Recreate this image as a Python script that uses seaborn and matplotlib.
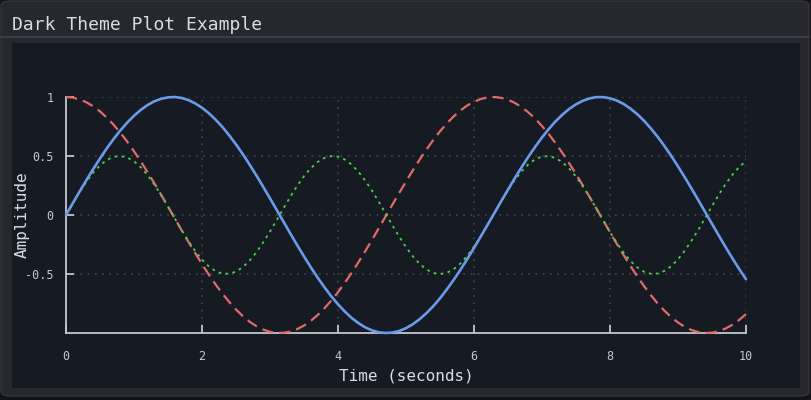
import matplotlib
matplotlib.use("Agg")
import matplotlib.pyplot as plt
from matplotlib.patches import FancyBboxPatch, Rectangle
from matplotlib.lines import Line2D
import seaborn as sns
import pandas as pd

# ---- data ----
x_vals = [0.0, 0.1, 0.2, 0.3, 0.4, 0.5, 0.6, 0.7, 0.8, 0.9,
          1.0, 1.1, 1.2, 1.3, 1.4, 1.5, 1.6, 1.7, 1.8, 1.9,
          2.0, 2.1, 2.2, 2.3, 2.4, 2.5, 2.6, 2.7, 2.8, 2.9,
          3.0, 3.1, 3.2, 3.3, 3.4, 3.5, 3.6, 3.7, 3.8, 3.9,
          4.0, 4.1, 4.2, 4.3, 4.4, 4.5, 4.6, 4.7, 4.8, 4.9,
          5.0, 5.1, 5.2, 5.3, 5.4, 5.5, 5.6, 5.7, 5.8, 5.9,
          6.0, 6.1, 6.2, 6.3, 6.4, 6.5, 6.6, 6.7, 6.8, 6.9,
          7.0, 7.1, 7.2, 7.3, 7.4, 7.5, 7.6, 7.7, 7.8, 7.9,
          8.0, 8.1, 8.2, 8.3, 8.4, 8.5, 8.6, 8.7, 8.8, 8.9,
          9.0, 9.1, 9.2, 9.3, 9.4, 9.5, 9.6, 9.7, 9.8, 9.9,
          10.0]
blue_vals = [0.000, 0.100, 0.199, 0.296, 0.389, 0.479, 0.565, 0.644, 0.717, 0.783,
             0.841, 0.891, 0.932, 0.964, 0.985, 0.997, 1.000, 0.992, 0.974, 0.946,
             0.909, 0.863, 0.808, 0.746, 0.675, 0.598, 0.516, 0.427, 0.335, 0.239,
             0.141, 0.042, -0.058, -0.158, -0.256, -0.351, -0.443, -0.530, -0.612, -0.688,
             -0.757, -0.818, -0.872, -0.916, -0.952, -0.978, -0.994, -1.000, -0.996, -0.983,
             -0.959, -0.926, -0.883, -0.832, -0.773, -0.706, -0.631, -0.551, -0.465, -0.374,
             -0.279, -0.182, -0.083, 0.017, 0.117, 0.215, 0.312, 0.405, 0.494, 0.578,
             0.657, 0.729, 0.794, 0.850, 0.899, 0.938, 0.968, 0.988, 0.999, 0.999,
             0.989, 0.970, 0.941, 0.902, 0.855, 0.799, 0.734, 0.663, 0.585, 0.501,
             0.412, 0.319, 0.223, 0.125, 0.025, -0.075, -0.174, -0.272, -0.367, -0.458,
             -0.544]
red_vals = [1.000, 0.995, 0.980, 0.955, 0.921, 0.878, 0.825, 0.765, 0.697, 0.622,
            0.540, 0.454, 0.362, 0.268, 0.170, 0.071, -0.029, -0.129, -0.227, -0.323,
            -0.416, -0.505, -0.589, -0.666, -0.737, -0.801, -0.857, -0.904, -0.942, -0.971,
            -0.990, -0.999, -0.998, -0.988, -0.967, -0.937, -0.897, -0.848, -0.791, -0.726,
            -0.654, -0.575, -0.490, -0.401, -0.307, -0.211, -0.112, -0.012, 0.088, 0.187,
            0.284, 0.378, 0.469, 0.554, 0.635, 0.709, 0.776, 0.835, 0.886, 0.928,
            0.960, 0.983, 0.997, 1.000, 0.993, 0.977, 0.950, 0.914, 0.869, 0.816,
            0.754, 0.685, 0.608, 0.526, 0.439, 0.347, 0.251, 0.153, 0.054, -0.046,
            -0.146, -0.244, -0.339, -0.431, -0.519, -0.602, -0.679, -0.749, -0.811, -0.865,
            -0.911, -0.948, -0.975, -0.992, -1.000, -0.997, -0.985, -0.962, -0.930, -0.889,
            -0.839]
green_vals = [0.000, 0.099, 0.195, 0.282, 0.359, 0.421, 0.466, 0.493, 0.500, 0.487,
              0.455, 0.404, 0.338, 0.258, 0.168, 0.071, -0.029, -0.128, -0.221, -0.306,
              -0.378, -0.436, -0.476, -0.497, -0.498, -0.480, -0.442, -0.386, -0.316, -0.232,
              -0.140, -0.042, 0.058, 0.156, 0.247, 0.329, 0.397, 0.449, 0.484, 0.499,
              0.495, 0.470, 0.427, 0.367, 0.292, 0.206, 0.112, 0.012, -0.087, -0.183,
              -0.272, -0.350, -0.414, -0.461, -0.491, -0.500, -0.490, -0.460, -0.411, -0.347,
              -0.268, -0.179, -0.083, 0.017, 0.116, 0.210, 0.296, 0.370, 0.430, 0.472,
              0.495, 0.499, 0.483, 0.447, 0.394, 0.325, 0.243, 0.152, 0.054, -0.046,
              -0.144, -0.236, -0.319, -0.389, -0.444, -0.481, -0.498, -0.496, -0.474, -0.434,
              -0.376, -0.302, -0.217, -0.124, -0.025, 0.075, 0.172, 0.262, 0.341, 0.407,
              0.457]
x_ticks = [0, 2, 4, 6, 8, 10]
y_ticks = [-0.5, 0, 0.5, 1]
y_tick_labels = ["-0.5", "0", "0.5", "1"]

title_text = "Dark Theme Plot Example"
x_label = "Time (seconds)"
y_label = "Amplitude"

df = pd.DataFrame({"x": x_vals, "blue": blue_vals, "red": red_vals, "green": green_vals})

# ---- style ----
sns.set_theme(style="dark")
plt.rcParams["font.family"] = ["DejaVu Sans Mono", "DejaVu Sans"]

W, H = 812, 400
fig = plt.figure(figsize=(W / 100, H / 100), dpi=100)
fig.patch.set_facecolor("#141418")

def fx(px):
    return px / W

def fy(py):
    return 1 - py / H

# window
win = FancyBboxPatch((fx(1), fy(396)), fx(808), 395 / H,
                     boxstyle="round,pad=0,rounding_size=0.012",
                     transform=fig.transFigure, facecolor="#27272f",
                     edgecolor="#34343c", linewidth=1.0, zorder=-3)
fig.patches.append(win)
# header divider
fig.add_artist(Line2D([fx(1), fx(809)], [fy(37), fy(37)], transform=fig.transFigure,
                      color="#3d3d47", linewidth=1.5, zorder=-2))
# plot panel
panel = Rectangle((fx(12), fy(388)), fx(788), 345 / H, transform=fig.transFigure,
                  facecolor="#151a23", edgecolor="none", zorder=-2)
fig.patches.append(panel)

fig.text(fx(12), fy(30), title_text, fontsize=13, color="#d9dce3",
         ha="left", va="baseline")

ax = fig.add_axes([fx(66), fy(333), fx(680), 236 / H])
ax.set_zorder(2)
ax.set_facecolor("none")

sns.lineplot(data=df, x="x", y="blue", ax=ax, color="#6a9be9", linewidth=1.9,
             clip_on=False, zorder=4)
sns.lineplot(data=df, x="x", y="red", ax=ax, color="#e26a6a", linewidth=1.6,
             clip_on=False, zorder=3)
sns.lineplot(data=df, x="x", y="green", ax=ax, color="#4ccf4c", linewidth=1.3,
             clip_on=False, zorder=3)
ax.lines[1].set_dashes([5, 2.8])
ax.lines[2].set_dashes([1.5, 2.4])

ax.set_xlim(0, 10)
ax.set_ylim(-1, 1)
ax.set_xticks(x_ticks)
ax.set_xticklabels([str(t) for t in x_ticks])
ax.set_yticks(y_ticks)
ax.set_yticklabels(y_tick_labels)

for side in ["top", "right"]:
    ax.spines[side].set_visible(False)
for side in ["left", "bottom"]:
    ax.spines[side].set_visible(True)
    ax.spines[side].set_color("#c3c6ce")
    ax.spines[side].set_linewidth(1.3)

ax.tick_params(axis="both", direction="in", length=6, width=1.3, color="#c3c6ce",
               labelcolor="#c4c8d0", labelsize=8.5, bottom=True, left=True)
ax.tick_params(axis="x", pad=12)
ax.tick_params(axis="y", pad=9)

ax.grid(True, color="#3a3f4b", linestyle=(0, (1, 3)), linewidth=1.3)
ax.set_axisbelow(True)

ax.set_xlabel(x_label, fontsize=11.5, color="#d9dce3", labelpad=4)
ax.set_ylabel(y_label, fontsize=11.5, color="#d9dce3")
ax.yaxis.set_label_coords(-0.054, 0.5)

fig.savefig("out.png", dpi=100, facecolor=fig.get_facecolor())
